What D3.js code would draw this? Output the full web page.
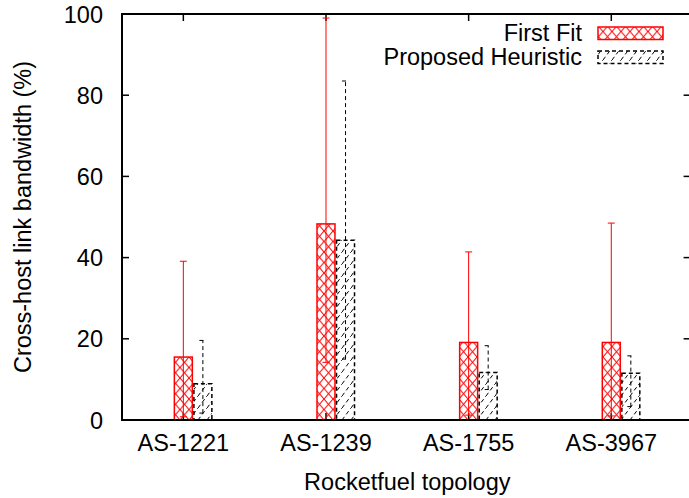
<!DOCTYPE html>
<html lang="en">
<head>
<meta charset="UTF-8" />
<title>Cross-host link bandwidth</title>
<script src="https://d3js.org/d3.v7.min.js"></script>
<style>
  body { margin: 0; background: #fff; }
  svg { display: block; font-family: "Liberation Sans", Arial, Helvetica, sans-serif; }
</style>
</head>
<body>
<svg width="689" height="498"></svg>
<script>
// data
const topologies = ["AS-1221", "AS-1239", "AS-1755", "AS-3967"];
const seriesNames = ["First Fit", "Proposed Heuristic"];
const firstFit     = [15.5, 48.3, 19.1, 19.1];
const firstFitLow  = [0.8, 14.2, 1.2, 1.0];
const firstFitHigh = [39.1, 99.0, 41.4, 48.5];
const heuristic     = [8.9, 44.3, 11.7, 11.5];
const heuristicLow  = [1.7, 15.0, 7.5, 3.3];
const heuristicHigh = [19.6, 83.5, 18.3, 15.8];
const yTicks = [0, 20, 40, 60, 80, 100];

const svg = d3.select("svg");
const plotL = 122, plotR = 692.6, plotT = 14, plotB = 420;
const fontSize = 23.5;

const x = d3.scaleLinear().domain([-0.43, 3.57]).range([plotL, plotR]);
const y = d3.scaleLinear().domain([0, 100]).range([plotB, plotT]);

const barW = 0.126, offset = [0, 0.137];

// patterns
const defs = svg.append("defs");
const cross = defs.append("pattern").attr("id", "cross")
  .attr("patternUnits", "userSpaceOnUse").attr("width", 9).attr("height", 10.5);
cross.append("path").attr("d", "M0,0L9,10.5M9,0L0,10.5")
  .attr("stroke", "#ff0000").attr("stroke-width", 1).attr("fill", "none");

const hatch = defs.append("pattern").attr("id", "hatch")
  .attr("patternUnits", "userSpaceOnUse").attr("width", 9).attr("height", 12);
hatch.append("path").attr("d", "M0,12L9,0")
  .attr("stroke", "#000").attr("stroke-width", 1).attr("stroke-dasharray", "4,3").attr("fill", "none");

const styles = [
  { fill: "url(#cross)", stroke: "#ff0000", dash: null },
  { fill: "url(#hatch)", stroke: "#000", dash: "4,3" }
];

// y ticks (left and mirrored right)
svg.append("g").selectAll("line").data(yTicks).join("line")
  .attr("x1", plotL).attr("x2", plotL + 7)
  .attr("y1", d => y(d)).attr("y2", d => y(d))
  .attr("stroke", "#000").attr("stroke-width", 1.5);
svg.append("g").selectAll("line").data(yTicks).join("line")
  .attr("x1", plotR - 9).attr("x2", plotR)
  .attr("y1", d => y(d)).attr("y2", d => y(d))
  .attr("stroke", "#000").attr("stroke-width", 1.5);
svg.append("g").selectAll("text").data(yTicks).join("text")
  .attr("x", 103).attr("y", d => y(d) + 8.5)
  .attr("text-anchor", "end").attr("font-size", fontSize)
  .text(d => d);

// x ticks (top and bottom)
svg.append("g").selectAll("line").data(topologies).join("line")
  .attr("x1", (d, i) => x(i)).attr("x2", (d, i) => x(i))
  .attr("y1", plotT).attr("y2", plotT + 7)
  .attr("stroke", "#000").attr("stroke-width", 1.5);
svg.append("g").selectAll("line").data(topologies).join("line")
  .attr("x1", (d, i) => x(i)).attr("x2", (d, i) => x(i))
  .attr("y1", plotB).attr("y2", plotB - 7)
  .attr("stroke", "#000").attr("stroke-width", 1.5);
svg.append("g").selectAll("text").data(topologies).join("text")
  .attr("x", (d, i) => x(i)).attr("y", 451)
  .attr("text-anchor", "middle").attr("font-size", fontSize)
  .text(d => d);

// bars and error bars
const series = [
  { vals: firstFit, lo: firstFitLow, hi: firstFitHigh },
  { vals: heuristic, lo: heuristicLow, hi: heuristicHigh }
];
series.forEach((s, k) => {
  const st = styles[k];
  const g = svg.append("g");
  g.selectAll("rect").data(s.vals).join("rect")
    .attr("x", (d, i) => x(i + offset[k] - barW / 2))
    .attr("width", x(barW) - x(0))
    .attr("y", d => y(d))
    .attr("height", d => y(0) - y(d))
    .attr("fill", st.fill)
    .attr("stroke", st.stroke).attr("stroke-width", 1.5)
    .attr("stroke-dasharray", st.dash);
  const cap = 3.5;
  const eb = g.selectAll("g.err").data(s.vals).join("g").attr("class", "err");
  eb.append("line")
    .attr("x1", (d, i) => x(i + offset[k])).attr("x2", (d, i) => x(i + offset[k]))
    .attr("y1", (d, i) => y(s.lo[i])).attr("y2", (d, i) => y(s.hi[i]));
  eb.append("line")
    .attr("x1", (d, i) => x(i + offset[k]) - cap).attr("x2", (d, i) => x(i + offset[k]) + cap)
    .attr("y1", (d, i) => y(s.hi[i])).attr("y2", (d, i) => y(s.hi[i]));
  eb.append("line")
    .attr("x1", (d, i) => x(i + offset[k]) - cap).attr("x2", (d, i) => x(i + offset[k]) + cap)
    .attr("y1", (d, i) => y(s.lo[i])).attr("y2", (d, i) => y(s.lo[i]));
  eb.selectAll("line").attr("stroke", st.stroke).attr("stroke-width", 1)
    .attr("stroke-dasharray", st.dash);
});

// border
svg.append("path")
  .attr("d", `M${plotL},${plotT}H${plotR}V${plotB}H${plotL}Z`)
  .attr("fill", "none").attr("stroke", "#000").attr("stroke-width", 2);

// legend
const legend = svg.append("g");
seriesNames.forEach((name, k) => {
  const ly = 33 + k * 24;
  legend.append("text").attr("x", 582).attr("y", ly + 8)
    .attr("text-anchor", "end").attr("font-size", fontSize).text(name);
  legend.append("rect").attr("x", 598).attr("y", ly - 6).attr("width", 65).attr("height", 12.5)
    .attr("fill", styles[k].fill).attr("stroke", styles[k].stroke).attr("stroke-width", 1.5)
    .attr("stroke-dasharray", styles[k].dash);
});

// axis titles
svg.append("text")
  .attr("transform", `translate(31,${(plotT + plotB) / 2}) rotate(-90)`)
  .attr("text-anchor", "middle").attr("font-size", fontSize)
  .text("Cross-host link bandwidth (%)");
svg.append("text")
  .attr("x", (plotL + plotR) / 2).attr("y", 490)
  .attr("text-anchor", "middle").attr("font-size", fontSize)
  .text("Rocketfuel topology");
</script>
</body>
</html>
